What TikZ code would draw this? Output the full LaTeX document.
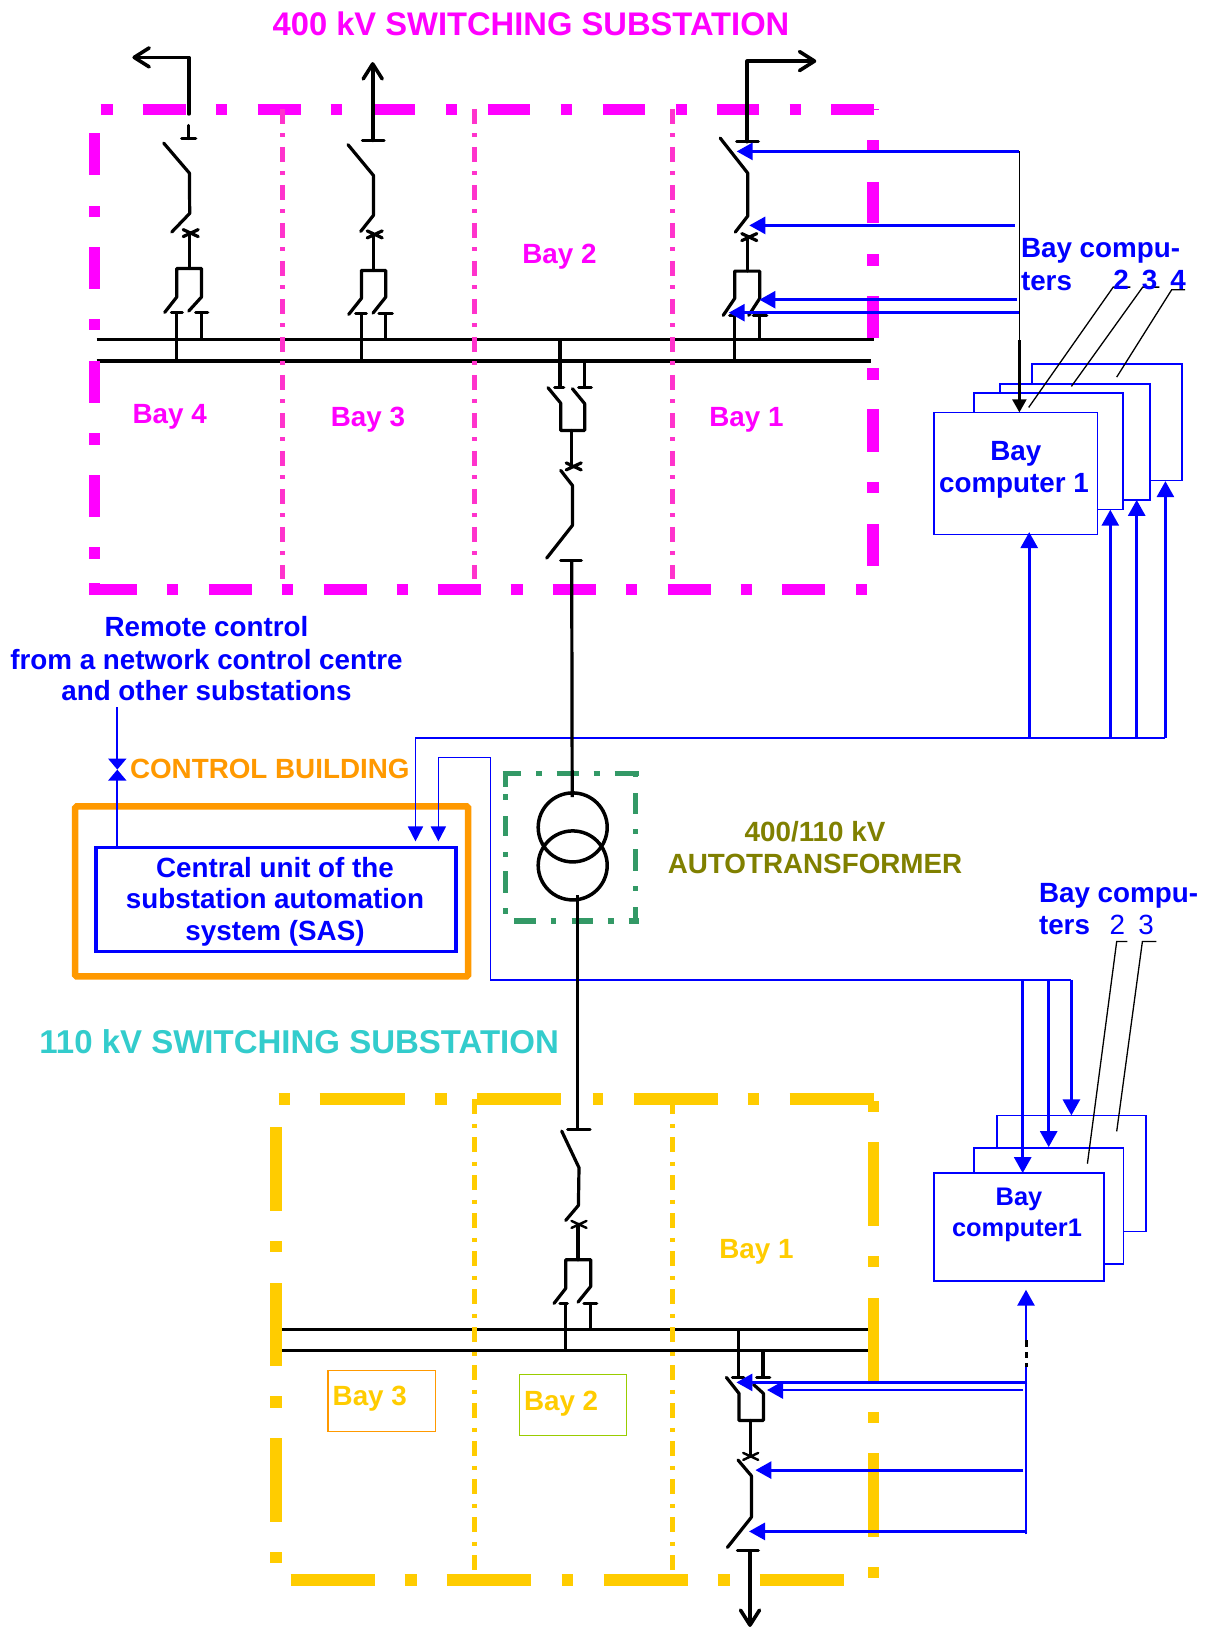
\documentclass[tikz,border=0pt]{standalone}
\usepackage{fontspec}
\setmainfont{Liberation Sans}
\usetikzlibrary{arrows.meta}
\definecolor{sasblue}{HTML}{0000FF}
\definecolor{pinkframe}{HTML}{FF00FF}
\definecolor{pinkbay}{HTML}{FF33CC}
\definecolor{goldframe}{HTML}{FFCC00}
\definecolor{orangeb}{HTML}{FF9900}
\definecolor{greent}{HTML}{339966}
\definecolor{olivet}{HTML}{808000}
\definecolor{tealt}{HTML}{33CCCC}
\definecolor{limeb}{HTML}{99CC00}
\newcommand{\hsegs}[3]{\foreach \a/\b in {#3} \draw[#1] (\a,#2) -- (\b,#2);}
\newcommand{\vsegs}[3]{\foreach \a/\b in {#3} \draw[#1] (#2,\a) -- (#2,\b);}
\newcommand{\crossm}[3][3.2pt]{\draw[wire,line width=#1] (#2-7.5,#3-3.5) -- (#2+7.5,#3+3.5) (#2-7.5,#3+3.5) -- (#2+7.5,#3-3.5);}
\tikzset{
  wire/.style={black,line width=3.2pt,line cap=round,line join=round},
  bus/.style={black,line width=3.4pt},
  pinkf/.style={pinkframe,line width=11.5pt},
  goldf/.style={goldframe,line width=11.5pt},
  greenf/.style={greent,line width=5.4pt},
  pinkdiv/.style={pinkbay,line width=4.6pt,dash pattern=on 15pt off 9.5pt on 4pt off 9.5pt},
  golddiv/.style={goldframe,line width=4.6pt,dash pattern=on 15pt off 9.5pt on 4pt off 9.5pt},
  bline/.style={sasblue,line width=1.6pt},
  barrow/.style={sasblue,line width=2.8pt,-{Triangle[length=16pt,width=17pt]}},
  barrowthin/.style={sasblue,line width=1.8pt,-{Triangle[length=15pt,width=15pt]}},
  karrow/.style={black,line width=3.6pt,line cap=round,line join=round,-{Straight Barb[length=15pt,width=19pt,line width=3.6pt,round]}},
  leader/.style={black,line width=1.3pt},
  baybox/.style={draw=sasblue,fill=white,line width=1.6pt,anchor=north west,inner sep=0pt,outer sep=0pt},
  lbl/.style={anchor=base,inner sep=0pt,outer sep=0pt,yshift=-0.5pt,xshift=-0.7pt,font=\fontsize{27.8}{30}\selectfont\bfseries},
  lbll/.style={lbl,anchor=base west},
}
\begin{document}
\begin{tikzpicture}[x=1pt,y=-1pt]
\useasboundingbox[fill=white] (-0.7,-0.4) rectangle (1204.3,1627.6);

% ---- busbars
\draw[bus] (96,339.3) -- (873.5,339.3);
\draw[bus] (96,360.7) -- (870,360.7);
\draw[bus] (281,1329) -- (867,1329);
\draw[bus] (281,1350.3) -- (867,1350.3);

% ---- 400 kV frame
\hsegs{pinkf}{109}{100/112,142/185,215/226,257/300,330/341,373/414,445/456,487/529,560/571,602/644,675/686,716/758.7,789/800,830.6/873}
\draw[pinkframe,line width=1pt] (873,109) -- (878,109);
\vsegs{pinkf}{94}{133/175,206/217,247/289,319/330,361/403,433/445,475/517,547/559,583/594.5}
\vsegs{pinkf}{872.5}{140/150,182/223,254/266,296/338,368/380,409/452,482/493,524/566}
\hsegs{pinkf}{589}{88/136,166/177,208/251,281/292,323/366,396/407,437/480,510/522,552/595,625/636.5,667/710,740/751,781.6/824,855/866}
\draw[pinkdiv] (281.7,108.5) -- (281.7,579);
\draw[pinkdiv] (473.5,108.5) -- (473.5,579);
\draw[pinkdiv] (671.5,108.5) -- (671.5,579);

% ---- 110 kV frame
\hsegs{goldf}{1098.5}{278/289,319/404,434/446,476/560,592/602,633/717,747/758,789/873}
\vsegs{goldf}{275.5}{1127/1211,1241/1252,1283/1366,1396/1408,1438/1522,1552/1563}
\vsegs{goldf}{872.7}{1101/1112,1142/1226,1256/1267,1298/1381,1411.5/1423,1453/1537,1567/1578}
\hsegs{goldf}{1579.5}{290/374,404/416,446/530,561/572,603/687,717/729,759/843}
\draw[golddiv] (473.5,1099) -- (473.5,1570);
\draw[golddiv] (671.7,1099) -- (671.7,1570);

% ---- transformer frame
\hsegs{greenf}{773}{502/520.4,535.7/541.6,556/578,593/599,614/638}
\vsegs{greenf}{505}{773/787,794/800,815.7/836,851.7/857,871/893,908/914}
\vsegs{greenf}{635}{773/777,792.7/814,829/834,849/871,885.7/891,906.7/924}
\hsegs{greenf}{920.7}{513.5/535,550/555.7,571/592.6,607/613,628/638}

% ---- control building
\node[draw=orangeb,line width=6.5pt,rounded corners=1.5pt,anchor=north west,inner sep=0pt,outer sep=0pt,minimum width=393pt,minimum height=170pt] (cb) at (74.5,806) {};
\node[draw=sasblue,line width=3.5pt,anchor=north west,inner sep=0pt,outer sep=0pt,minimum width=360pt,minimum height=103.7pt] (sas) at (95.1,847.3) {};

% ---- bay computer stacks
\node[baybox,minimum width=149.5pt,minimum height=116.3pt] (ta) at (1031.5,363.7) {};
\node[baybox,minimum width=150pt,minimum height=116pt] (tb) at (999,383.3) {};
\node[baybox,minimum width=149.3pt,minimum height=116.3pt] (tc) at (973,392.7) {};
\node[baybox,minimum width=163.3pt,minimum height=122pt] (td) at (933.5,412) {};
\node[baybox,minimum width=149.3pt,minimum height=116pt] (la) at (996,1115) {};
\node[baybox,minimum width=149.4pt,minimum height=116pt] (lb) at (973.3,1147.3) {};
\node[baybox,minimum width=170pt,minimum height=108pt] (lc) at (933.3,1172.7) {};

% ---- blue wiring in the middle
\coordinate (busL) at (414.8,737.7);
\coordinate (busR) at (1164.7,737.7);
\coordinate (loopA) at (437.7,757);
\coordinate (loopB) at (489.8,757);
\coordinate (loopC) at (489.8,979.3);
\coordinate (loopD) at (1070.7,979.3);
\coordinate (busLt) at (414.8,841);
\coordinate (loopAt) at (437.7,841);
\draw[barrowthin] (busR) -- (busL) -- (busLt);
\draw[barrowthin] (loopB) -- (loopA) -- (loopAt);
\draw[bline] (loopB) -- (loopC) -- (loopD);

\draw[barrow] (1028.5,737.7) -- (1028.5,531.7);
\draw[barrow] (1109.6,737.7) -- (1109.6,509.3);
\draw[barrow] (1136,737.7) -- (1136,499.5);
\draw[barrow] (busR) -- (1164.7,480.7);

\draw[barrow] (loopD) -- (1070.7,1115);
\draw[barrow] (1048,979.3) -- (1048,1146.7);
\draw[barrow] (1022,979.3) -- (1022,1172.7);

% remote control link with bow-tie
\coordinate (remT) at (116.6,706.7);
\coordinate (bow) at (116.6,769.2);
\draw[bline,line width=2pt,-{Triangle[length=11pt,width=18pt]}] (remT) -- (bow);
\draw[bline,line width=2pt,-{Triangle[length=11pt,width=18pt]}] (sas.north -| bow) -- (bow);

% ---- feeders, 400 kV
% bay 4
\draw[karrow] (188,113.5) -- (188,57) -- (131.7,57);
\draw[wire] (188,125) -- (188,138) (181,138) -- (195,138);
\draw[wire] (163,142.7) -- (188.7,172.7) -- (189,213) -- (171,231.7);
\crossm{190}{232.7}
\draw[wire] (189,232.7) -- (189,268);
\draw[wire] (164,312) -- (176,296.7) -- (176,268) -- (200.7,268) -- (200.7,296.7) -- (188,310.7);
\draw[wire] (170.7,311.7) -- (181.7,311.7) (195,311.7) -- (207,311.7);
\draw[wire,line cap=butt] (176,311.7) -- (176,360.7) (200.7,311.7) -- (200.7,339.3);
% bay 3
\draw[karrow] (372,140) -- (372,61.7);
\draw[wire] (361.7,140) -- (383.3,140);
\draw[wire] (347.3,144.3) -- (372.7,175) -- (372.7,215) -- (360,231);
\crossm{374}{234}
\draw[wire] (373,234) -- (373,270);
\draw[wire] (348,314) -- (360.7,298) -- (360.7,270) -- (385,270) -- (385,296.7) -- (372.3,312.7);
\draw[wire] (355,313) -- (365.7,313) (378.3,313) -- (391.7,313);
\draw[wire,line cap=butt] (360.7,313) -- (360.7,360.7) (385,313) -- (385,339.3);
% bay 1
\draw[karrow] (746.5,141.3) -- (746.5,60.7) -- (815.6,60.7);
\draw[wire] (736,141.3) -- (757.7,141.3);
\draw[wire] (719.5,137.7) -- (747,172.7) -- (747,215.7) -- (734.6,231.7);
\crossm{748.6}{236.7}
\draw[wire] (747,236.7) -- (747,270.7);
\draw[wire] (722.5,315) -- (734,298) -- (734,270.7) -- (759,270.7) -- (759,298) -- (748,315);
\draw[wire] (729,314.7) -- (739,314.7) (752.6,314.7) -- (766,314.7);
\draw[wire,line cap=butt] (734,314.7) -- (734,360.7) (759,314.7) -- (759,339.3);
% bay 2 (transformer feeder)
\draw[wire,line cap=butt] (559.3,339.3) -- (559.3,387.3) (584,360.7) -- (584,387.3);
\draw[wire] (554,387.3) -- (563,387.3) (578,387.3) -- (590.7,387.3);
\draw[wire] (547.3,387.3) -- (560,402.7) -- (560,430) -- (584,430) -- (584,403.3) -- (571.7,388.3);
\draw[wire] (570.7,430) -- (570.7,466);
\crossm{573}{466}
\draw[wire] (560,470) -- (571.7,485) -- (571.7,525) -- (546,557.7);
\draw[wire] (560,560) -- (580.7,560);

% ---- transformer
\node[circle,draw=black,line width=3.5pt,minimum size=69pt,inner sep=0pt] (tU) at (572,827) {};
\node[circle,draw=black,line width=3.5pt,minimum size=69pt,inner sep=0pt] (tL) at (572,865) {};
\draw[wire,line cap=butt] (571,560) -- (571.5,796.7);
\draw[wire,line cap=butt] (576.5,895) -- (576.5,1129.3);

% ---- feeders, 110 kV
% bay 2
\draw[wire] (567,1129.3) -- (589.3,1129.3);
\draw[wire] (561,1130.7) -- (578.3,1167.3) -- (577.7,1205) -- (565,1220);
\crossm[2.4pt]{578.3}{1224}
\draw[wire] (577.3,1224) -- (577.3,1259.3);
\draw[wire] (553.3,1303) -- (565,1288) -- (565,1259.3) -- (590,1259.3) -- (590,1286) -- (577.3,1301.7);
\draw[wire] (559.3,1302.7) -- (566.7,1302.7) (583.3,1302.7) -- (596,1302.7);
\draw[wire,line cap=butt] (565,1302.7) -- (565,1350.3) (589.7,1302.7) -- (589.7,1329);
% bay 1
\draw[wire,line cap=butt] (737.7,1329) -- (737.7,1377) (762.3,1350.3) -- (762.3,1377);
\draw[wire] (731.7,1377) -- (743,1377) (756,1377) -- (769,1377);
\draw[wire] (725.7,1377) -- (738.3,1393) -- (738.3,1420) -- (762.7,1420) -- (762.7,1393) -- (752.7,1384);
\draw[wire] (750,1420) -- (750,1456);
\crossm[2.4pt]{750}{1456}
\draw[wire] (737.3,1459.6) -- (750.7,1475.4) -- (750.7,1516.8) -- (726.7,1547);
\draw[wire] (736.7,1550) -- (757.7,1550);
\draw[wire,line cap=butt] (749.3,1550) -- (749.3,1581.5);
\draw[karrow,line width=4.4pt] (749.3,1581.5) -- (749.3,1626.5);

% ---- blue control lines, 400 kV
\coordinate (c1) at (1018.7,151);
\draw[barrow] (c1) -- (736,151);
\draw[barrow] (1013.8,225) -- (748.6,225);
\draw[barrow] (1016.5,299.3) -- (758.7,299.3);
\draw[barrow] (1018.7,312.3) -- (728,312.3);
\draw[black,line width=1.4pt] (c1) -- (1018.7,340);
\draw[black,line width=2.2pt,-{Triangle[length=13pt,width=14pt]}] (1018.7,340) -- (td.north -| c1);

% ---- blue control lines, 110 kV
\coordinate (c2) at (1025.3,1534);
\draw[bline] (c2) -- (1025.3,1367);
\draw[black,line width=3pt] (1025.3,1340) -- (1025.3,1346.7) (1025.3,1351.7) -- (1025.3,1358) (1025.3,1363) -- (1025.3,1367);
\draw[barrow] (1025.3,1340) -- (1025.3,1289.3);
\draw[barrow] (1026.7,1382) -- (735.7,1382);
\draw[barrow] (1022.7,1389.6) -- (766.3,1389.6);
\draw[barrow] (1022.7,1469.7) -- (754.7,1469.7);
\draw[barrow] (1026.7,1531) -- (748.3,1531);

% ---- leaders
\draw[leader] (1028,407) -- (1112.5,286.7) -- (1129.6,286.7);
\draw[leader] (1070.7,386) -- (1142,286.7) -- (1158.7,286.7);
\draw[leader] (1116,376.7) -- (1171,289.3) -- (1184.5,289.3);
\draw[leader] (1086.7,1163.3) -- (1116,941) -- (1126.7,941);
\draw[leader] (1116,1131) -- (1141.7,941) -- (1155.7,941);

% ---- bay boxes with text, 110 kV
\node[draw=orangeb,line width=1.3pt,anchor=north west,inner sep=0pt,outer sep=0pt,minimum width=107.4pt,minimum height=61pt] (b3box) at (327.3,1370) {};
\node[draw=limeb,line width=1.3pt,anchor=north west,inner sep=0pt,outer sep=0pt,minimum width=107.3pt,minimum height=61pt] (b2box) at (518.7,1374.3) {};

% ---- text
\node[lbl,text=pinkframe,font=\fontsize{32.7}{35}\selectfont\bfseries] (t400) at (531,35) {400 kV SWITCHING SUBSTATION};
\node[lbl,text=pinkframe] (pb2) at (559.5,263) {Bay 2};
\node[lbl,text=pinkframe] (pb4) at (169.7,423) {Bay 4};
\node[lbl,text=pinkframe] (pb3) at (368,425.7) {Bay 3};
\node[lbl,text=pinkframe] (pb1) at (746.5,426) {Bay 1};
\node[lbll,text=sasblue] (bc1a) at (1021,256.7) {Bay compu-};
\node[lbll,text=sasblue] (bc1b) at (1021,289.3) {ters};
\node[lbl,text=sasblue] (n2) at (1121,289) {2};
\node[lbl,text=sasblue] (n3) at (1149.7,289) {3};
\node[lbl,text=sasblue] (n4) at (1178,289) {4};
\node[lbl,text=sasblue] (bca) at (1015.8,460) {Bay};
\node[lbl,text=sasblue] (bcb) at (1014,491.7) {computer 1};
\node[lbl,text=sasblue] (rc1) at (206.5,636) {Remote control};
\node[lbl,text=sasblue] (rc2) at (206.5,668.5) {from a network control centre};
\node[lbl,text=sasblue] (rc3) at (206.5,700) {and other substations};
\node[lbll,text=orangeb] (cbt) at (130,777.3) {CONTROL BUILDING};
\node[lbl,text=sasblue] (s1) at (275,876.7) {Central unit of the};
\node[lbl,text=sasblue] (s2) at (275,907.3) {substation automation};
\node[lbl,text=sasblue] (s3) at (275,940) {system (SAS)};
\node[lbl,text=olivet] (at1) at (815,841) {400/110 kV};
\node[lbl,text=olivet] (at2) at (815,873) {AUTOTRANSFORMER};
\node[lbll,text=tealt,font=\fontsize{33}{35}\selectfont\bfseries] (t110) at (39.4,1053) {110 kV SWITCHING SUBSTATION};
\node[lbll,text=sasblue] (bc2a) at (1039,901.7) {Bay compu-};
\node[lbll,text=sasblue] (bc2b) at (1039,933.3) {ters};
\node[lbl,text=sasblue,font=\fontsize{27.8}{30}\selectfont] (m2) at (1117.3,933.3) {2};
\node[lbl,text=sasblue,font=\fontsize{27.8}{30}\selectfont] (m3) at (1146,933.3) {3};
\node[lbl,text=sasblue,font=\fontsize{25.4}{28}\selectfont\bfseries] (bda) at (1019,1205) {Bay};
\node[lbl,text=sasblue,font=\fontsize{25.4}{28}\selectfont\bfseries] (bdb) at (1017,1235.7) {computer1};
\node[lbl,text=goldframe] (gb1) at (756.5,1258) {Bay 1};
\node[lbll,text=goldframe] (gb3) at (332.7,1405) {Bay 3};
\node[lbll,text=goldframe] (gb2) at (524,1409.3) {Bay 2};
\end{tikzpicture}
\end{document}
